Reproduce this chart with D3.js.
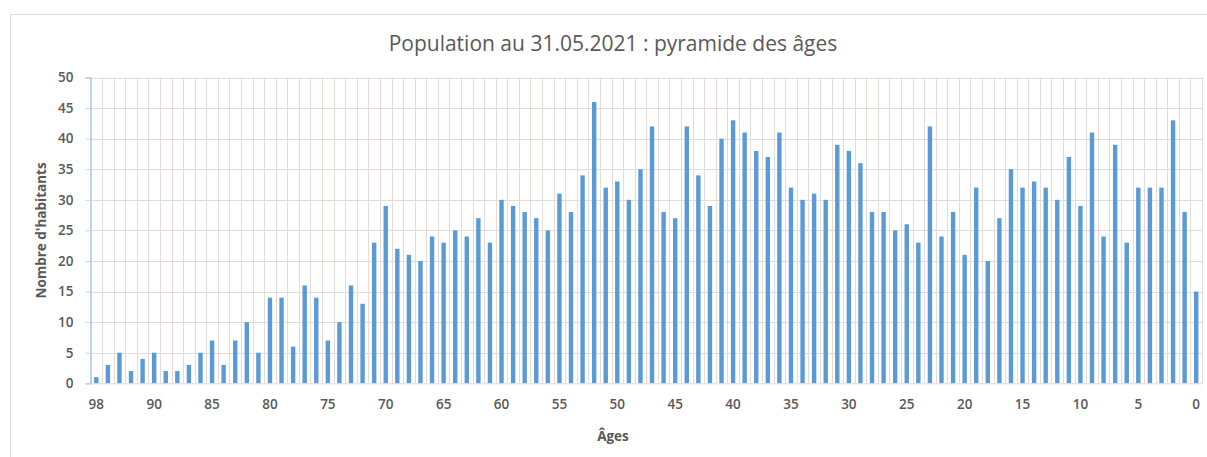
<!DOCTYPE html>
<html>
<head>
<meta charset="utf-8">
<script src="https://cdn.jsdelivr.net/npm/d3@7"></script>
<style>
  html, body { margin: 0; padding: 0; background: #ffffff; }
  svg { display: block; }
</style>
</head>
<body>
<svg id="chart" width="1207" height="457"></svg>
<script>
// ---- data ----
const ages = ["98", "96", "94", "92", "91",
  "90","89","88","87","86","85","84","83","82","81","80","79","78","77","76",
  "75","74","73","72","71","70","69","68","67","66","65","64","63","62","61",
  "60","59","58","57","56","55","54","53","52","51","50","49","48","47","46",
  "45","44","43","42","41","40","39","38","37","36","35","34","33","32","31",
  "30","29","28","27","26","25","24","23","22","21","20","19","18","17","16",
  "15","14","13","12","11","10","9","8","7","6","5","4","3","2","1","0"];
const habitants = [1,3,5,2,4,5,2,2,3,5,7,3,7,10,5,14,14,6,16,14,7,10,16,
  13,23,29,22,21,20,24,23,25,24,27,23,30,29,28,27,25,31,28,34,46,32,33,30,35,
  42,28,27,42,34,29,40,43,41,38,37,41,32,30,31,30,39,38,36,28,28,25,26,23,
  42,24,28,21,32,20,27,35,32,33,32,30,37,29,41,24,39,23,32,32,32,43,28,15];
const tickLabels = ["98","90","85","80","75","70","65","60","55","50","45","40","35","30","25","20","15","10","5","0"];
const yTicks = [0,5,10,15,20,25,30,35,40,45,50];
const titleText = "Population au 31.05.2021 : pyramide des âges";
const yTitle = "Nombre d'habitants";
const xTitle = "Âges";

// ---- layout ----
const svg = d3.select("#chart");
const plot = { left: 90.5, right: 1202, top: 77.5, bottom: 383.3 };
const font = "'Open Sans', 'DejaVu Sans', sans-serif";

svg.append("rect").attr("x", 10.5).attr("y", 14.5).attr("width", 1210).attr("height", 460)
  .attr("fill", "#ffffff").attr("stroke", "#d9d9d9").attr("stroke-width", 1);

const x = d3.scaleBand().domain(d3.range(ages.length)).range([plot.left, plot.right]).paddingInner(0).paddingOuter(0);
const y = d3.scaleLinear().domain([0, 50]).range([plot.bottom, plot.top]);

const gridColor = "#e3dada";

// horizontal grid
svg.append("g").selectAll("line").data(yTicks.filter(d => d > 0)).join("line")
  .attr("x1", plot.left).attr("x2", plot.right)
  .attr("y1", d => Math.round(y(d)) + 0.5).attr("y2", d => Math.round(y(d)) + 0.5)
  .attr("stroke", gridColor).attr("stroke-width", 1);

// vertical grid at category boundaries
svg.append("g").selectAll("line").data(d3.range(1, ages.length + 1)).join("line")
  .attr("x1", i => Math.round(x(i - 1) + x.bandwidth()) + 0.5)
  .attr("x2", i => Math.round(x(i - 1) + x.bandwidth()) + 0.5)
  .attr("y1", plot.top).attr("y2", plot.bottom)
  .attr("stroke", gridColor).attr("stroke-width", 1);

// bars
const barW = 4.4;
svg.append("g").selectAll("rect").data(habitants).join("rect")
  .attr("x", (d, i) => x(i) + x.bandwidth() / 2 - barW / 2)
  .attr("width", barW)
  .attr("y", d => y(d))
  .attr("height", d => y(0) - y(d))
  .attr("fill", "#5b9bd5");

// y axis
const yAxis = d3.axisLeft(y).tickValues(yTicks).tickSize(5).tickPadding(12);
const gy = svg.append("g").attr("transform", `translate(${plot.left},0)`).call(yAxis);
gy.select(".domain").attr("stroke", "#a9c8e8").attr("stroke-width", 1.5);
gy.selectAll(".tick line").attr("stroke", "#c9d9ea");
gy.selectAll(".tick text").attr("fill", "#595959")
  .style("font-family", font).style("font-size", "13.5px").style("font-weight", "600");

// x axis
const labelMap = new Map();
ages.forEach((a, i) => { if (tickLabels.includes(a) && (i === 0 || i % 5 === 0)) labelMap.set(i, a); });
const xAxis = d3.axisBottom(x).tickValues([...labelMap.keys()]).tickFormat(i => labelMap.get(i)).tickSize(0).tickPadding(16);
const gx = svg.append("g").attr("transform", `translate(0,${plot.bottom})`).call(xAxis);
gx.select(".domain").attr("stroke", "#d9d9d9").attr("stroke-width", 1);
gx.selectAll(".tick text").attr("fill", "#595959")
  .style("font-family", font).style("font-size", "13.5px").style("font-weight", "600");

// title
svg.append("text").attr("x", 613).attr("y", 51).attr("text-anchor", "middle")
  .attr("fill", "#595959")
  .style("font-family", font).style("font-size", "21px")
  .text(titleText);

// y title
svg.append("text").attr("transform", `translate(46,${(plot.top + plot.bottom) / 2}) rotate(-90)`)
  .attr("text-anchor", "middle").attr("fill", "#595959")
  .style("font-family", font).style("font-size", "13.5px").style("font-weight", "700")
  .text(yTitle);

// x title
svg.append("text").attr("x", 613).attr("y", 441).attr("text-anchor", "middle")
  .attr("fill", "#595959")
  .style("font-family", font).style("font-size", "13.5px").style("font-weight", "700")
  .text(xTitle);
</script>
</body>
</html>
